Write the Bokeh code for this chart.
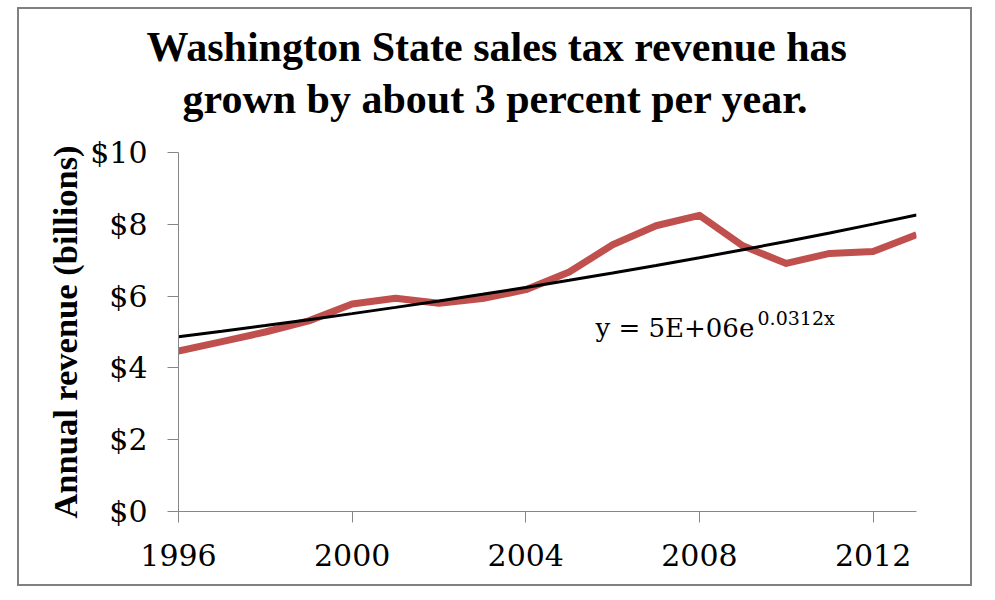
import numpy as np
from bokeh.plotting import figure
from bokeh.models import Range1d, FixedTicker, Label, Title
from bokeh.embed import file_html
from bokeh.resources import INLINE

# ---- data ----
years = [1996, 1997, 1998, 1999, 2000, 2001, 2002, 2003, 2004,
         2005, 2006, 2007, 2008, 2009, 2010, 2011, 2012, 2013]
revenue = [4.47, 4.73, 5.00, 5.31, 5.78, 5.94, 5.80, 5.93, 6.18,
           6.67, 7.43, 7.96, 8.25, 7.40, 6.91, 7.19, 7.24, 7.71]
x_ticks = [1996, 2000, 2004, 2008, 2012]
y_ticks = [0, 2, 4, 6, 8, 10]
y_tick_labels = ["$0", "$2", "$4", "$6", "$8", "$10"]
title_lines = ["Washington State sales tax revenue has",
               "grown by about 3 percent per year."]
y_label = "Annual revenue (billions)"
eq_main = "y = 5E+06e"
eq_sup = "0.0312x"

# exponential trendline fitted to the data (as a spreadsheet trendline)
yrs = np.array(years, dtype=float)
idx = yrs - yrs[0] + 1
slope, intercept = np.polyfit(idx, np.log(np.array(revenue)), 1)
trend = np.exp(intercept) * np.exp(slope * idx)

W, H = 955, 579
p = figure(width=W, height=H, output_backend="svg", toolbar_location=None,
           x_range=Range1d(1996, 2013), y_range=Range1d(0, 10),
           min_border_left=159, min_border_right=58,
           min_border_top=143, min_border_bottom=77,
           title=None, margin=(7, 0, 0, 17),
           styles={"border": "2px solid #808080"})
p.outline_line_color = None
p.xgrid.grid_line_color = None
p.ygrid.grid_line_color = None
p.background_fill_color = "white"
p.border_fill_color = "white"

p.line(years, revenue, line_color="#C0504D", line_width=7, line_join="round")
p.line(years, trend.tolist(), line_color="black", line_width=3)

axis_grey = "#868686"
for ax in (p.xaxis[0], p.yaxis[0]):
    ax.axis_line_color = axis_grey
    ax.major_tick_line_color = axis_grey
    ax.minor_tick_line_color = None
    ax.major_tick_in = 0
    ax.major_tick_out = 11
    ax.major_label_text_font = "DejaVu Serif"
    ax.major_label_text_font_size = "30px"
    ax.major_label_text_color = "black"

p.xaxis.ticker = FixedTicker(ticks=x_ticks)
p.xaxis.major_label_standoff = 21
p.yaxis.ticker = FixedTicker(ticks=y_ticks)
p.yaxis.major_label_overrides = {tk: lb for tk, lb in zip(y_ticks, y_tick_labels)}
p.yaxis.major_label_standoff = 20

p.yaxis.axis_label = y_label
p.yaxis.axis_label_text_font = "Liberation Serif"
p.yaxis.axis_label_text_font_style = "bold"
p.yaxis.axis_label_text_font_size = "34.5px"
p.yaxis.axis_label_text_color = "black"
p.yaxis.axis_label_standoff = 3

# title block: an empty gap panel next to the frame, then line 2, then line 1
p.add_layout(Title(text=" ", text_font_size="2px", standoff=27), "above")
title_offsets = [-32, 4]
title_standoffs = [8, 0]
for txt, off, so in reversed(list(zip(title_lines, title_offsets, title_standoffs))):
    p.add_layout(Title(text=txt, align="left", offset=off, standoff=so,
                       text_line_height=0.84,
                       text_font="Liberation Serif", text_font_style="bold",
                       text_font_size="42px", text_color="black"), "above")

# trendline equation (screen units relative to the plot frame)
p.add_layout(Label(x=417, y=184, x_units="screen", y_units="screen", text=eq_main,
                   text_font="DejaVu Serif", text_font_size="26px",
                   text_align="left", text_baseline="alphabetic", text_color="black"))
p.add_layout(Label(x=579, y=194, x_units="screen", y_units="screen", text=eq_sup,
                   text_font="DejaVu Serif", text_font_size="19px",
                   text_align="left", text_baseline="alphabetic", text_color="black"))

open("out.html", "w").write(file_html(p, INLINE))
